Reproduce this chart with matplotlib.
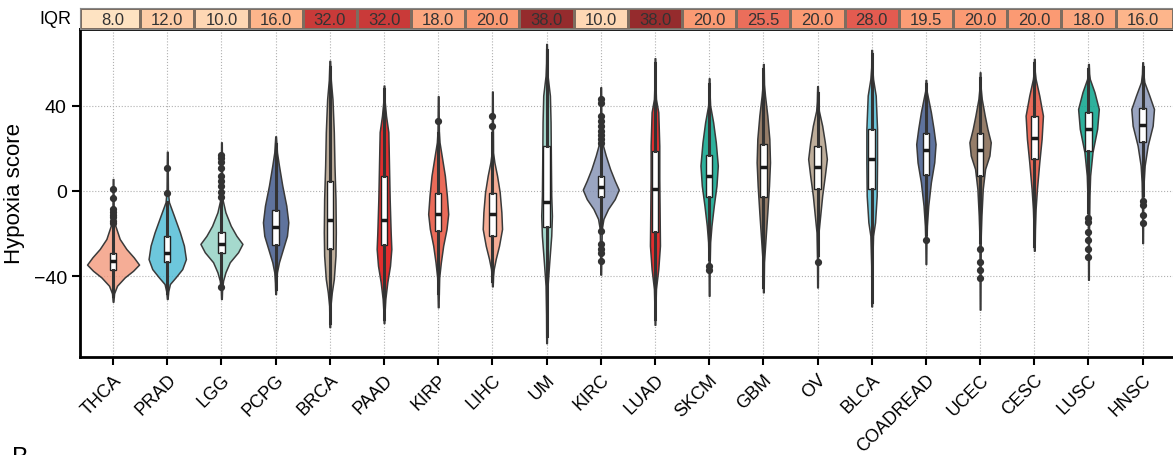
import numpy as np
import matplotlib
matplotlib.use("Agg")
import matplotlib.pyplot as plt
from matplotlib.colors import LinearSegmentedColormap, Normalize, to_rgba

plt.rcParams['font.family'] = ['Liberation Sans', 'DejaVu Sans']

# =============================================================================
# data
# =============================================================================
cancers = ["THCA", "PRAD", "LGG", "PCPG", "BRCA", "PAAD", "KIRP", "LIHC", "UM",
           "KIRC", "LUAD", "SKCM", "GBM", "OV", "BLCA", "COADREAD", "UCEC",
           "CESC", "LUSC", "HNSC"]

iqr = [8.0, 12.0, 10.0, 16.0, 32.0, 32.0, 18.0, 20.0, 38.0, 10.0,
       38.0, 20.0, 25.5, 20.0, 28.0, 19.5, 20.0, 20.0, 18.0, 16.0]

# box stats: q1, median, q3, lower whisker, upper whisker
q1 = [-37.2, -33.1, -29.1, -25.3, -27.2, -25.2, -18.9, -21.2, -17.0, -3.0,
      -19.1, -3.0, -3.0, 0.8, 0.8, 7.5, 7.0, 15.0, 18.9, 22.8]
med = [-32.7, -29.1, -24.7, -17.0, -13.4, -13.4, -10.9, -10.9, -5.2, 1.7,
       0.8, 7.0, 11.1, 11.4, 15.0, 19.2, 19.2, 24.8, 29.1, 31.1]
q3 = [-29.1, -21.0, -19.4, -8.9, 4.8, 6.9, -1.1, -1.1, 21.0, 7.2,
      18.9, 16.9, 22.0, 21.0, 29.1, 27.0, 27.0, 35.0, 36.9, 38.9]
whis_lo = [-49, -48, -43, -46, -62, -60, -48, -42, -68, -17,
           -60, -32, -45, -30, -52, -20, -24, -26, -10, -2]
whis_hi = [-17, -5, -5, 22, 58, 48, 27, 27, 66, 21,
           60, 50, 57, 46, 64, 50, 53, 60, 57, 58]

outliers = {
    "THCA": [0.9, -3.3, -8.4, -10.0, -11.3, -12.4, -14.0, -15.2],
    "PRAD": [10.8, -1.1],
    "LGG": [16.9, 15.3, 13.5, 10.6, 6.9, 4.8, 2.2, -0.6, -3.0, -45.2],
    "KIRP": [33.0],
    "LIHC": [35.0, 30.6],
    "KIRC": [43.1, 41.3, 35.0, 33.0, 30.6, 28.3, 26.3, 24.4, 22.5,
             -18.6, -24.8, -27.2, -29.1, -33.0],
    "SKCM": [-35.0, -36.9],
    "OV": [-33.1],
    "COADREAD": [-23.0],
    "UCEC": [-27.2, -33.1, -36.9, -40.9],
    "LUSC": [-12.8, -14.7, -19.1, -23.0, -27.2, -31.1],
    "HNSC": [-4.8, -6.4, -11.1, -15.2],
}

# violin outlines: score levels and density (relative half width)
vio_y = {
    "THCA": [5.6, -12, -15.9, -22.5, -27.2, -31.1, -34.5, -37.4, -40.5, -44.4, -48, -51.9],
    "PRAD": [18.4, 0, -5.2, -11.6, -19.4, -25.6, -31.9, -36.6, -40.5, -43.6, -47, -50.6],
    "LGG": [22.8, 0, -4.5, -10, -16.3, -21, -24.8, -28.7, -33.4, -38.1, -42, -46, -50.6],
    "PCPG": [25.6, 18.1, 11.9, 2.5, -6.9, -14.7, -21, -27.2, -33.4, -38.1, -43, -48.3],
    "BRCA": [61, 52, 43, 27.6, 11.9, -3.8, -19.4, -30.3, -41.3, -47.5, -53.8, -58, -63.8],
    "PAAD": [49.4, 42, 35.3, 27.6, 11.9, -3.8, -19.4, -27.2, -35, -42.7, -50.6, -56, -61.9],
    "KIRP": [44.4, 28, 22.8, 15, 7.2, -2.2, -10.8, -17.8, -25.6, -33.4, -40.5, -47, -54.5],
    "LIHC": [46.6, 18, 13.4, 7.2, -0.6, -10, -17.8, -25.6, -31.9, -36.6, -40, -44.7],
    "UM": [68.9, 60, 54, 44.7, 32.2, 13.4, -2.2, -11.6, -21, -33.4, -44.4, -58, -71.3],
    "KIRC": [48.6, 28, 22.8, 16.6, 10.3, 4.8, 0.6, -3.8, -8.4, -13.1, -17.8, -28, -39.2],
    "LUAD": [62.2, 50, 43.1, 36.9, 21.2, 5.6, -10, -25.6, -36.6, -45.9, -55, -62.7],
    "SKCM": [52.8, 45, 40, 32.2, 22.8, 11.9, 2.5, -6.9, -16.3, -24, -35, -49.1],
    "GBM": [59.5, 50, 44.7, 35.3, 24.4, 13.4, 2.5, -10, -24, -33.4, -40, -47.5],
    "OV": [49.1, 42, 37.6, 30.6, 22.8, 15, 7.2, -2.2, -11.6, -19.4, -32, -45.2],
    "BLCA": [66.1, 58, 52.5, 44.7, 29.1, 13.4, -2.2, -14.7, -21, -35, -54.1],
    "COADREAD": [52, 47, 44.7, 36.9, 29.1, 22, 13.4, 4.1, -6.9, -16.3, -25, -34.2],
    "UCEC": [55.6, 48, 43.1, 35.3, 29.1, 22.8, 16.6, 10.3, 0.9, -11.6, -21, -38, -55.6],
    "CESC": [61.9, 56, 52.5, 44.7, 35.3, 24.4, 13.4, 0.9, -8.4, -18, -28],
    "LUSC": [59.5, 55, 52.5, 46.3, 38.4, 29.1, 18.1, 7.2, -2.2, -20, -41.6],
    "HNSC": [60.3, 55, 51, 44.7, 38.4, 30.6, 21.2, 11.9, 4.1, -10, -24.4],
}
vio_d = {
    "THCA": [1, 2, 6, 20, 40, 62, 78, 60, 35, 12, 3, 1],
    "PRAD": [1, 2, 5, 20, 38, 50, 56, 45, 25, 8, 3, 1],
    "LGG": [1, 2, 4, 12, 28, 45, 63, 50, 25, 12, 5, 2, 1],
    "PCPG": [1, 4, 10, 20, 32, 38, 34, 22, 10, 4, 2, 1],
    "BRCA": [1, 3, 8, 12, 14, 17, 18, 17, 12, 6, 2, 1.5, 1],
    "PAAD": [1, 2, 6, 13, 15, 17, 20, 22, 18, 10, 4, 2, 1],
    "KIRP": [1, 2, 4, 12, 20, 26, 30, 25, 15, 8, 3, 2, 1],
    "LIHC": [1, 2, 6, 14, 22, 27, 29, 20, 10, 4, 2, 1],
    "UM": [1, 1.5, 3, 10, 12, 13, 14, 16, 14, 8, 3, 1.5, 1],
    "KIRC": [1, 2, 4, 15, 28, 42, 54, 42, 22, 8, 3, 2, 1],
    "LUAD": [1, 1.5, 3, 10, 13, 13, 14, 15, 10, 3, 1.5, 1],
    "SKCM": [1, 1.5, 3, 12, 20, 26, 22, 14, 7, 3, 1.5, 1],
    "GBM": [1, 2, 5, 12, 18, 20, 17, 12, 6, 2, 1.5, 1],
    "OV": [1, 2, 4, 14, 22, 28, 22, 14, 8, 3, 1.5, 1],
    "BLCA": [1, 1.5, 4, 12, 16, 16, 15, 10, 4, 1.5, 1],
    "COADREAD": [1, 2, 5, 15, 23, 29, 25, 15, 7, 3, 1.5, 1],
    "UCEC": [1, 2, 5, 14, 22, 32, 28, 15, 8, 4, 2, 1.5, 1],
    "CESC": [1, 1.5, 4, 15, 26, 22, 15, 8, 4, 2, 1],
    "LUSC": [1, 2, 4, 18, 31, 26, 12, 5, 3, 1.5, 1],
    "HNSC": [1, 2, 5, 20, 34, 30, 15, 6, 3, 1.5, 1],
}

# npg palette
npg = {"red": "#E64B35", "blue": "#4DBBD5", "green": "#00A087", "navy": "#3C5488",
       "salmon": "#F39B7F", "lav": "#8491B4", "mint": "#91D1C2", "dred": "#DC0000",
       "brown": "#7E6148", "tan": "#B09C85"}
colour_of = ["salmon", "blue", "mint", "navy", "tan", "dred", "red", "salmon", "mint",
             "lav", "dred", "green", "brown", "tan", "blue", "navy", "brown", "red",
             "green", "lav"]

# =============================================================================
# figure
# =============================================================================
W, H = 1173, 456
fig = plt.figure(figsize=(W / 100, H / 100), dpi=100)
ax = fig.add_axes([80 / W, 1 - 358 / H, 1 - 80 / W, 328 / H])
ax_top = fig.add_axes([80 / W, 1 - 30 / H, 1 - 80 / W, 21 / H])

pos = np.arange(len(cancers))
xlim = (-0.61, 19.56)
dens_scale = 162.6   # density units per category spacing

vpstats = []
for c in cancers:
    y = np.array(vio_y[c], float)
    d = np.array(vio_d[c], float)
    vpstats.append(dict(coords=y, vals=d, mean=np.median(y), median=np.median(y),
                        min=y.min(), max=y.max()))
widths = [2 * max(vio_d[c]) / dens_scale for c in cancers]
parts = ax.violin(vpstats, positions=pos, widths=widths,
                  showmeans=False, showextrema=False, showmedians=False)
for body, key in zip(parts["bodies"], colour_of):
    body.set_alpha(None)
    body.set_facecolor(to_rgba(npg[key], 0.82))
    body.set_edgecolor("#3a3a3a")
    body.set_linewidth(1.1)
    body.set_zorder(2)

bstats = []
for i, c in enumerate(cancers):
    bstats.append(dict(med=med[i], q1=q1[i], q3=q3[i], whislo=whis_lo[i],
                       whishi=whis_hi[i], fliers=outliers.get(c, [])))
ax.bxp(bstats, positions=pos, widths=0.12, patch_artist=True, showcaps=False,
       manage_ticks=False, zorder=3,
       boxprops=dict(facecolor="white", edgecolor="#222222", linewidth=1.0),
       medianprops=dict(color="#1a1a1a", linewidth=2.5, solid_capstyle="butt"),
       whiskerprops=dict(color="#333333", linewidth=2.2),
       flierprops=dict(marker="o", markerfacecolor="#333333",
                       markeredgecolor="#333333", markersize=4.2))

ax.set_xlim(*xlim)
ax.set_ylim(-77.8, 75.9)
ax.set_yticks([-40, 0, 40])
ax.set_xticks(pos)
ax.set_xticklabels(cancers, rotation=45, ha="right", va="top",
                   rotation_mode="anchor", fontsize=13)
ax.tick_params(axis="y", labelsize=14, direction="out", length=6, width=1.5)
ax.tick_params(axis="x", direction="out", length=6, width=1.5, pad=4)
ax.set_ylabel("Hypoxia score", fontsize=16, labelpad=6)
ax.grid(True, ls=":", color="#b0b0b0", lw=0.8)
ax.set_axisbelow(True)
for s in ["left", "bottom", "top"]:
    ax.spines[s].set_linewidth(2)
ax.spines["right"].set_visible(False)

# =============================================================================
# IQR strip
# =============================================================================
cmap = LinearSegmentedColormap.from_list(
    "iqr", [(0.0, "#fee3c2"), (0.27, "#fdb48a"), (0.4, "#fb9a73"),
            (0.67, "#e35a50"), (0.8, "#c93a39"), (1.0, "#952b2d")])
edges = np.arange(len(cancers) + 1) - 0.5
edges[0], edges[-1] = xlim
ax_top.pcolormesh(edges, [0, 1], np.array([iqr]), cmap=cmap,
                  norm=Normalize(8, 38), edgecolors="#7d6d60", linewidth=0.9)
for i, v in enumerate(iqr):
    ax_top.text(pos[i], 0.45, f"{v:.1f}", ha="center", va="center",
                fontsize=12, color="#333333")
ax_top.set_xlim(*xlim)
ax_top.set_ylim(0, 1)
ax_top.set_xticks([])
ax_top.set_yticks([])
for s in ax_top.spines.values():
    s.set_color("#888888")
ax_top.text(-0.008, 0.5, "IQR", transform=ax_top.transAxes, ha="right",
            va="center", fontsize=13)

# panel letter of the next panel, cut by the lower edge as in the source
fig.text(12 / W, 1 - 446 / H, "B", fontsize=18, va="top")

fig.savefig("out.png", dpi=100)
